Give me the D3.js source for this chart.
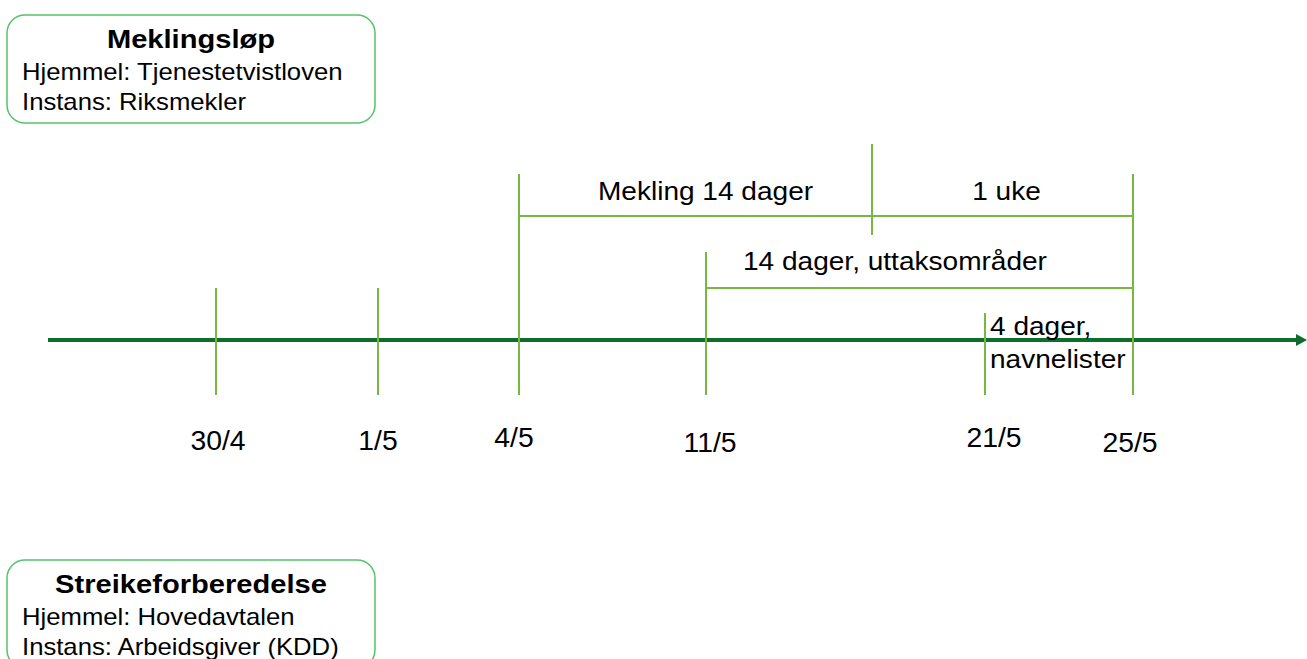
<!DOCTYPE html>
<html>
<head>
<meta charset="utf-8">
<script src="https://cdn.jsdelivr.net/npm/d3@7"></script>
<style>
  body { margin: 0; background: #fff; }
  text { font-family: "Liberation Sans", Arial, sans-serif; fill: #000; }
</style>
</head>
<body>
<div id="chart"></div>
<script>
// days counted from 30/4
var tickDays = [0, 1, 4, 11, 21, 25];
var tickLabels = ["30/4", "1/5", "4/5", "11/5", "21/5", "25/5"];
var meklingEnd = 18; // 4/5 + 14 dager

var periodLabels = ["Mekling 14 dager", "1 uke", "14 dager, uttaksområder", "4 dager, navnelister"];
var periodStart = [4, meklingEnd, 11, 21];
var periodEnd = [meklingEnd, 25, 25, 25];

var boxTitles = ["Meklingsløp", "Streikeforberedelse"];
var boxHjemmel = ["Hjemmel: Tjenestetvistloven", "Hjemmel: Hovedavtalen"];
var boxInstans = ["Instans: Riksmekler", "Instans: Arbeidsgiver (KDD)"];

var width = 1307, height = 659;
var dark = "#0b6e2b", light = "#77b843", boxStroke = "#55c468";

var svg = d3.select("#chart").append("svg")
    .attr("width", width)
    .attr("height", height);

// the slide places the dates by hand, so the scale is piecewise
var x = d3.scaleLinear()
    .domain([0, 1, 4, 11, meklingEnd, 21, 25])
    .range([216, 378, 519, 706, 872, 985, 1133]);

var y = d3.scaleOrdinal()
    .domain(["row0", "row1", "axis"])
    .range([216, 288, 340]);

function label(g, px, py, txt, size, sx, anchor, weight) {
    return g.append("text")
        .attr("transform", "translate(" + px + "," + py + ") scale(" + sx + ",1)")
        .attr("text-anchor", anchor || "start")
        .style("font-size", size + "px")
        .style("font-weight", weight || "normal")
        .text(txt);
}

// main axis with arrow
svg.append("line")
    .attr("x1", 48).attr("x2", width - 8)
    .attr("y1", y("axis")).attr("y2", y("axis"))
    .attr("stroke", dark).attr("stroke-width", 4);
svg.append("path")
    .attr("d", "M" + (width - 11) + "," + (y("axis") - 6) + "L" + width + "," + y("axis") + "L" + (width - 11) + "," + (y("axis") + 6) + "Z")
    .attr("fill", dark);

// ticks
var tickTop = [288, 288, 174, 252, 313, 174];
svg.selectAll(".tick")
    .data(tickDays)
    .enter().append("line")
    .attr("class", "tick")
    .attr("x1", function(d) { return x(d); })
    .attr("x2", function(d) { return x(d); })
    .attr("y1", function(d, i) { return tickTop[i]; })
    .attr("y2", 395)
    .attr("stroke", light).attr("stroke-width", 2);

// tick between mekling and 1 uke
svg.append("line")
    .attr("x1", x(meklingEnd)).attr("x2", x(meklingEnd))
    .attr("y1", 144).attr("y2", 235)
    .attr("stroke", light).attr("stroke-width", 2);

// date labels
var dateDx = [2, 0, -5, 4, 9, -3];
var dateY = [450, 450, 447, 452, 447, 452];
tickDays.forEach(function(d, i) {
    label(svg, x(d) + dateDx[i], dateY[i], tickLabels[i], 27, 1.05, "middle");
});

// period bars
svg.append("line")
    .attr("x1", x(periodStart[0])).attr("x2", x(periodEnd[1]))
    .attr("y1", y("row0")).attr("y2", y("row0"))
    .attr("stroke", light).attr("stroke-width", 2);
svg.append("line")
    .attr("x1", x(periodStart[2])).attr("x2", x(periodEnd[2]))
    .attr("y1", y("row1")).attr("y2", y("row1"))
    .attr("stroke", light).attr("stroke-width", 2);

// period labels
label(svg, (x(periodStart[0]) + x(periodEnd[0])) / 2 + 10, y("row0") - 16, periodLabels[0], 25.5, 1.1, "middle");
label(svg, (x(periodStart[1]) + x(periodEnd[1])) / 2 + 4, y("row0") - 16, periodLabels[1], 25.5, 1.1, "middle");
label(svg, x(periodStart[2]) + 37, y("row1") - 18, periodLabels[2], 25.5, 1.1, "start");
var nl = periodLabels[3].split(" ");
label(svg, x(periodStart[3]) + 5, y("axis") - 5, nl[0] + " " + nl[1], 25.5, 1.1, "start");
label(svg, x(periodStart[3]) + 5, y("axis") + 28, nl[2], 25.5, 1.1, "start");

// info boxes
var boxTop = [15, 560];
boxTitles.forEach(function(t, i) {
    var g = svg.append("g").attr("transform", "translate(7," + boxTop[i] + ")");
    g.append("rect")
        .attr("x", 0).attr("y", 0)
        .attr("width", 368).attr("height", 108)
        .attr("rx", 18).attr("ry", 18)
        .attr("fill", "none")
        .attr("stroke", boxStroke).attr("stroke-width", 1.5);
    label(g, 184, 33, t, 26, 1.12, "middle", "bold");
    label(g, 15, 65, boxHjemmel[i], 24, 1.07, "start");
    label(g, 15, 95, boxInstans[i], 24, 1.07, "start");
});
</script>
</body>
</html>
